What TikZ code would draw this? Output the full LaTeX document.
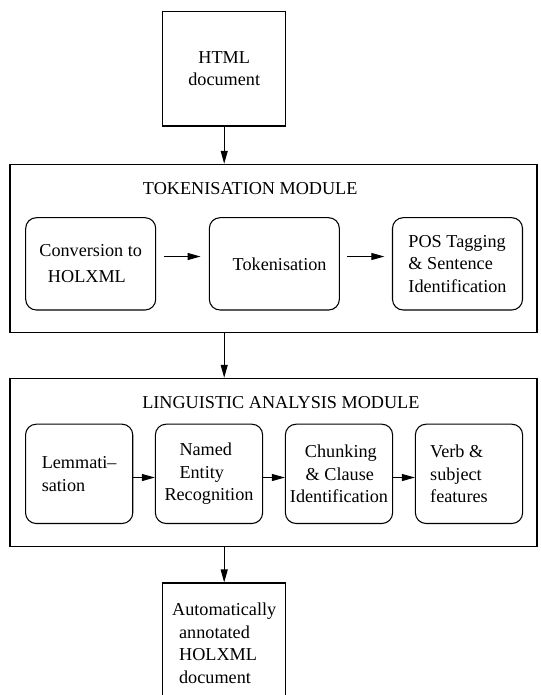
\documentclass[tikz,border=0pt]{standalone}
\usepackage{fontspec}
\setmainfont{Liberation Serif}
\usetikzlibrary{arrows.meta}
\newdimen\pxu
\pxu=0.75pt
\begin{document}
\begin{tikzpicture}[x=0.75pt, y=-0.75pt, line width=0.8pt,
  txt/.style={font=\fontsize{13.65pt}{16.9pt}\selectfont},
  box/.style={draw, rectangle, inner sep=0pt, align=left, txt},
  rbox/.style={box, rounded corners=8pt},
  module/.style={draw, rectangle, inner sep=0pt},
  title/.style={anchor=base, inner sep=0pt, txt},
  arr/.style={-{Triangle[length=9.75pt,width=5.25pt]}},
  upbox/.style={rbox, minimum width=130\pxu, minimum height=92.3\pxu},
  lowbox/.style={rbox, minimum width=107.2\pxu, minimum height=99.3\pxu}]
\useasboundingbox (0,0) rectangle (541,695);

% top input
\node[box, align=center, minimum width=123\pxu, minimum height=114.3\pxu] (html) at (224.2,68.85) {HTML\\document};

% tokenisation module
\node[module, minimum width=527\pxu, minimum height=168.2\pxu] (tokmod) at (273.5,248.4) {};
\node[title] (toktitle) at (250.25,195) {TOKENISATION MODULE};
\node[upbox, font=\fontsize{13.65pt}{19.3pt}\selectfont] (conv) at (90.7,263.85) {Conversion to\\\hspace*{8.6\pxu}HOLXML};
\node[upbox] (tok) at (274.35,263.85) {\hspace*{10.5\pxu}Tokenisation};
\node[upbox] (pos) at (457.5,263.85) {POS Tagging\\\& Sentence\\Identification};

% linguistic analysis module
\node[module, minimum width=527\pxu, minimum height=168.4\pxu] (lingmod) at (273.5,462.5) {};
\node[title] (lingtitle) at (280.9,408) {LINGUISTIC ANALYSIS MODULE};
\node[lowbox] (lem) at (79.15,473.85) {Lemmati–\\sation};
\node[lowbox] (ner) at (209,473.85) {\hspace*{15\pxu}Named\\\hspace*{15\pxu}Entity\\Recognition};
\node[lowbox] (chunk) at (339,473.85) {\hspace*{15\pxu}Chunking\\\hspace*{15.7\pxu}\& Clause\\Identification};
\node[lowbox] (verb) at (469,473.85) {Verb \&\\subject\\features\hspace*{20\pxu}};

% output
\node[box, minimum width=123\pxu, minimum height=121\pxu] (out) at (224.2,643.5) {Automatically\\\hspace*{7\pxu}annotated\\\hspace*{7\pxu}HOLXML\\\hspace*{7\pxu}document};

% connectors
\draw[arr] (html.south) -- (html.south |- tokmod.north);
\draw[arr] (tokmod.south -| html.south) -- (lingmod.north -| html.south);
\draw[arr] (lingmod.south -| out.north) -- (out.north);
\draw[arr, shorten <=5.5pt, shorten >=6.2pt] ([yshift=5.5pt]conv.east) -- ([yshift=5.5pt]tok.west);
\draw[arr, shorten <=5.7pt, shorten >=5.7pt] ([yshift=5.5pt]tok.east) -- ([yshift=5.5pt]pos.west);
\draw[arr] ([yshift=-2.75pt]lem.east) -- ([yshift=-2.75pt]ner.west);
\draw[arr] ([yshift=-2.75pt]ner.east) -- ([yshift=-2.75pt]chunk.west);
\draw[arr] ([yshift=-2.75pt]chunk.east) -- ([yshift=-2.75pt]verb.west);
\end{tikzpicture}
\end{document}
